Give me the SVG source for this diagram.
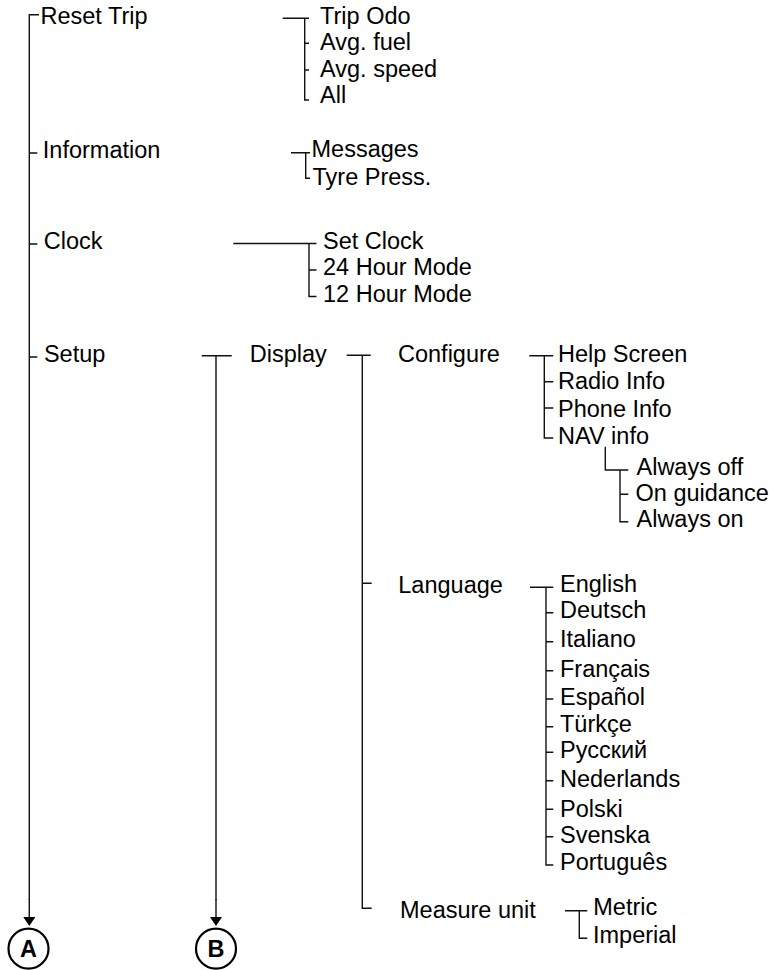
<svg xmlns="http://www.w3.org/2000/svg" width="774" height="970" viewBox="0 0 774 970">
<style>
text{font-family:"Liberation Sans",Arial,Helvetica,sans-serif;font-size:23.5px;fill:#000}
.ln{fill:none;stroke:#111;stroke-width:1.4}
.circ{fill:#fff;stroke:#000;stroke-width:2.2}
.lbl{font-weight:bold;font-size:23.5px;text-anchor:middle}
</style>
<defs>
<marker id="arr" markerWidth="9" markerHeight="12" refX="0" refY="6" orient="auto" markerUnits="userSpaceOnUse" viewBox="0 0 9 12">
<path d="M0,0 L9,6 L0,12 Z" fill="#000" stroke="none"/>
</marker>
</defs>
<rect width="774" height="970" fill="#fff"/>
<g id="connectors" class="ln">
<path d="M39,14.7 H29.3 V900"/>
<path d="M29.3,153 H37.3 M29.3,244 H37.3 M29.3,357 H37.3"/>
<path d="M282.7,18.3 H309 M304.7,18.3 V100 H309 M304.7,43.3 H309 M304.7,70 H309"/>
<path d="M291,152.7 H310 M305.7,152.7 V178.3 H310"/>
<path d="M233.3,243.5 H316.5 M309,243.5 V296.5 H316.5 M309,270 H316.5"/>
<path d="M201.7,355.7 H231.7 M216,355.7 V900"/>
<path d="M346.7,355.3 H370.7 M362.3,355.3 V908.3 H371.7 M362.3,583.3 H371.7"/>
<path d="M529.3,355.7 H553.3 M544.3,355.7 V438 H553.3 M544.3,381.7 H553.3 M544.3,408 H553.3"/>
<path d="M605.3,446.7 V470 H628.3 M620,470 V521.7 H628.3 M620,494.3 H628.3"/>
<path d="M530,587.3 H553.3 M546,587.3 V865 H553.3 M546,612.7 H553.3 M546,641.7 H553.3 M546,670.7 H553.3 M546,699 H553.3 M546,726.7 H553.3 M546,752.3 H553.3 M546,780.7 H553.3 M546,809.3 H553.3 M546,836.7 H553.3"/>
<path d="M565,910.7 H587.3 M579.3,910.7 V938.3 H587.3"/>
<line x1="29.3" y1="899" x2="29.3" y2="917" marker-end="url(#arr)"/>
<line x1="216" y1="899" x2="216" y2="917" marker-end="url(#arr)"/>
</g>
<g id="reset-trip"><text x="40.5" y="24">Reset Trip</text></g>
<g id="reset-trip-items">
<text x="320" y="24">Trip Odo</text>
<text x="320" y="50">Avg. fuel</text>
<text x="320" y="77">Avg. speed</text>
<text x="320" y="103.3">All</text>
</g>
<g id="information"><text x="42.8" y="157.5">Information</text></g>
<g id="information-items">
<text x="311.5" y="157">Messages</text>
<text x="312.5" y="184.5">Tyre Press.</text>
</g>
<g id="clock"><text x="43.8" y="249">Clock</text></g>
<g id="clock-items">
<text x="323" y="248.5">Set Clock</text>
<text x="323" y="275">24 Hour Mode</text>
<text x="323" y="301.7">12 Hour Mode</text>
</g>
<g id="setup"><text x="43.9" y="361.7">Setup</text></g>
<g id="display"><text x="249.8" y="361.7">Display</text></g>
<g id="configure"><text x="398" y="361.7">Configure</text></g>
<g id="configure-items">
<text x="558" y="361.7">Help Screen</text>
<text x="558" y="389">Radio Info</text>
<text x="558" y="416.5">Phone Info</text>
<text x="558" y="444">NAV info</text>
</g>
<g id="nav-items">
<text x="636.5" y="475">Always off</text>
<text x="635.5" y="500.5">On guidance</text>
<text x="636.5" y="527">Always on</text>
</g>
<g id="language"><text x="398.3" y="593.3">Language</text></g>
<g id="language-items">
<text x="560" y="591.7">English</text>
<text x="560" y="618.3">Deutsch</text>
<text x="560" y="646.7">Italiano</text>
<text x="560" y="676.7">Français</text>
<text x="560" y="705">Español</text>
<text x="560" y="731.7">Türkçe</text>
<text x="560" y="758.3">Русский</text>
<text x="560" y="786.7">Nederlands</text>
<text x="560" y="816.7">Polski</text>
<text x="560" y="843.3">Svenska</text>
<text x="560" y="870">Português</text>
</g>
<g id="measure-unit"><text x="400" y="918.3">Measure unit</text></g>
<g id="measure-items">
<text x="593.3" y="915">Metric</text>
<text x="593" y="943.3">Imperial</text>
</g>
<g id="node-a"><circle class="circ" cx="28.5" cy="948.7" r="20"/><text class="lbl" x="28.5" y="957">A</text></g>
<g id="node-b"><circle class="circ" cx="216" cy="948.7" r="20"/><text class="lbl" x="216" y="957">B</text></g>
</svg>
